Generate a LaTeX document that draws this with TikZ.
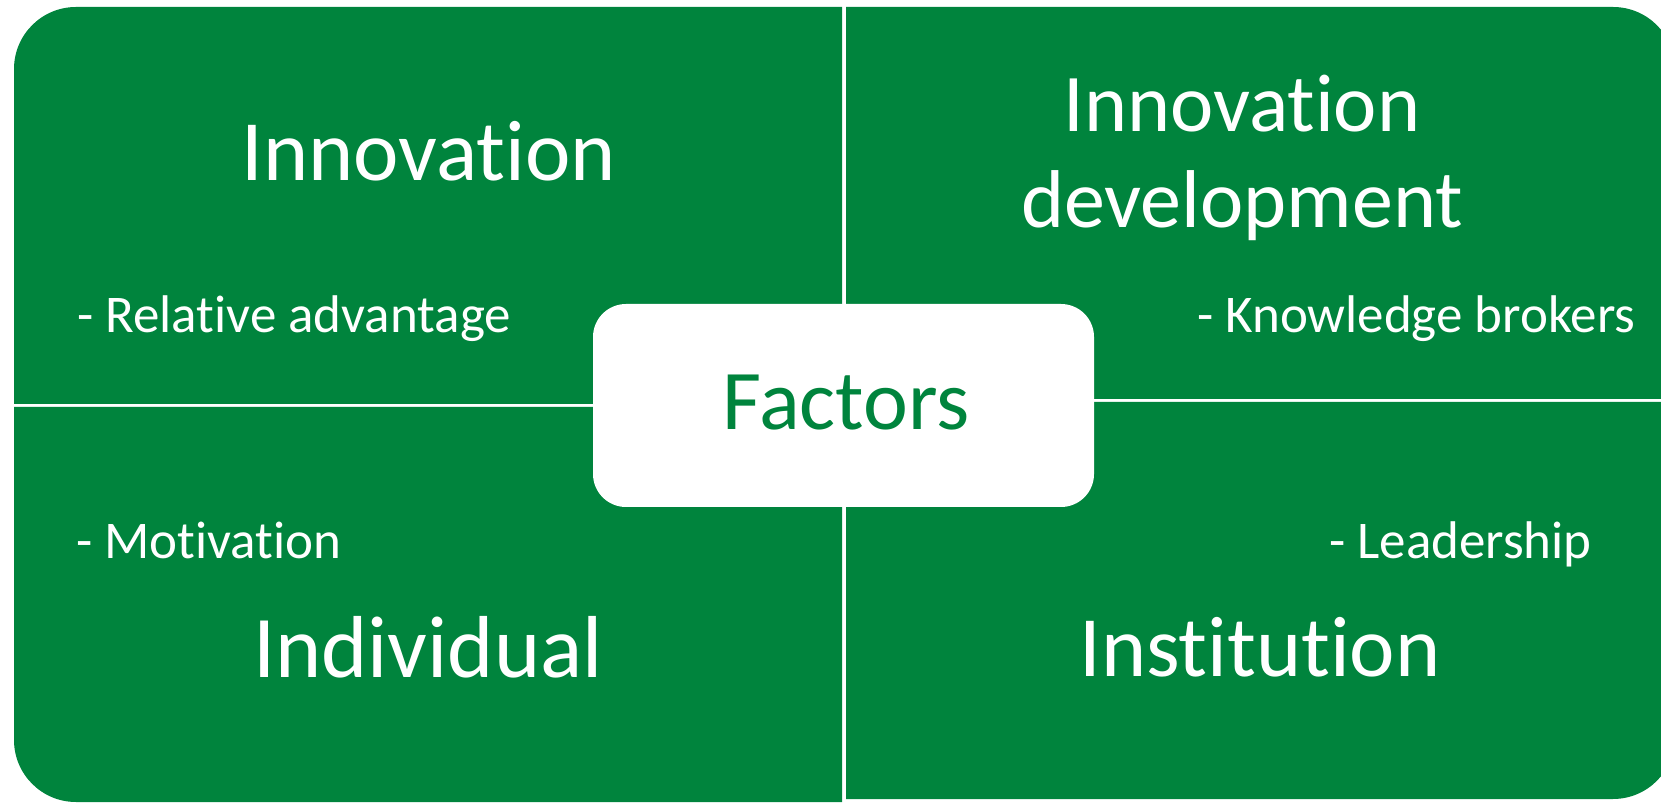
\documentclass[tikz,border=0pt]{standalone}
\usepackage{fontspec}
\setmainfont{Carlito}[Ligatures={NoCommon}]
\definecolor{qgreen}{HTML}{00843D}
\tikzset{
  quad/.style={fill=qgreen},
  title/.style={text=white, inner sep=0pt, anchor=base, font=\fontsize{87}{96}\selectfont},
  titlesm/.style={text=white, inner sep=0pt, anchor=base, font=\fontsize{82}{96}\selectfont},
  item/.style={text=white, inner sep=0pt, anchor=base west, font=\fontsize{53}{60}\selectfont},
  centerbox/.style={fill=white, rounded corners=33pt, minimum width=501pt, minimum height=203pt, inner sep=0pt},
  centertext/.style={text=qgreen, inner sep=0pt, anchor=base, font=\fontsize{85}{96}\selectfont}
}
\begin{document}
\begin{tikzpicture}[x=1pt,y=1pt]
\useasboundingbox (0,0) rectangle (1661,803);
\clip (0,0) rectangle (1661,803);
% quadrants
\fill[quad] (842,399) -- (14,399) -- (14,734) arc[start angle=180,end angle=90,radius=62] -- (842,796) -- cycle;
\fill[quad] (846,404) -- (846,796) -- (1613,796) arc[start angle=90,end angle=0,radius=62] -- (1675,404) -- cycle;
\fill[quad] (842,396) -- (14,396) -- (14,63) arc[start angle=180,end angle=270,radius=62] -- (842,1) -- cycle;
\fill[quad] (846,401) -- (1675,401) -- (1675,66) arc[start angle=0,end angle=-90,radius=62] -- (846,4) -- cycle;
% centre box
\node[centerbox] (factors) at (843.5,397.5) {};
\node[centertext] (factorstext) at (846,373) {Factors};
% titles
\node[title, font=\fontsize{86}{96}\selectfont] (innov) at (429,622) {Innovation};
\node[titlesm] (innovdev1) at (1242,671) {Innovation};
\node[titlesm] (innovdev2) at (1242,575) {development};
\node[title, font=\fontsize{88}{96}\selectfont] (indiv) at (428,125) {Individual};
\node[title, font=\fontsize{86}{96}\selectfont] (inst) at (1260,127) {Institution};
% items
\node[item] (reladv) at (77,470) {- Relative advantage};
\node[item] (know) at (1197,470) {- Knowledge brokers};
\node[item] (motiv) at (76,244) {- Motivation};
\node[item] (lead) at (1329,244) {- Leadership};
\end{tikzpicture}
\end{document}
